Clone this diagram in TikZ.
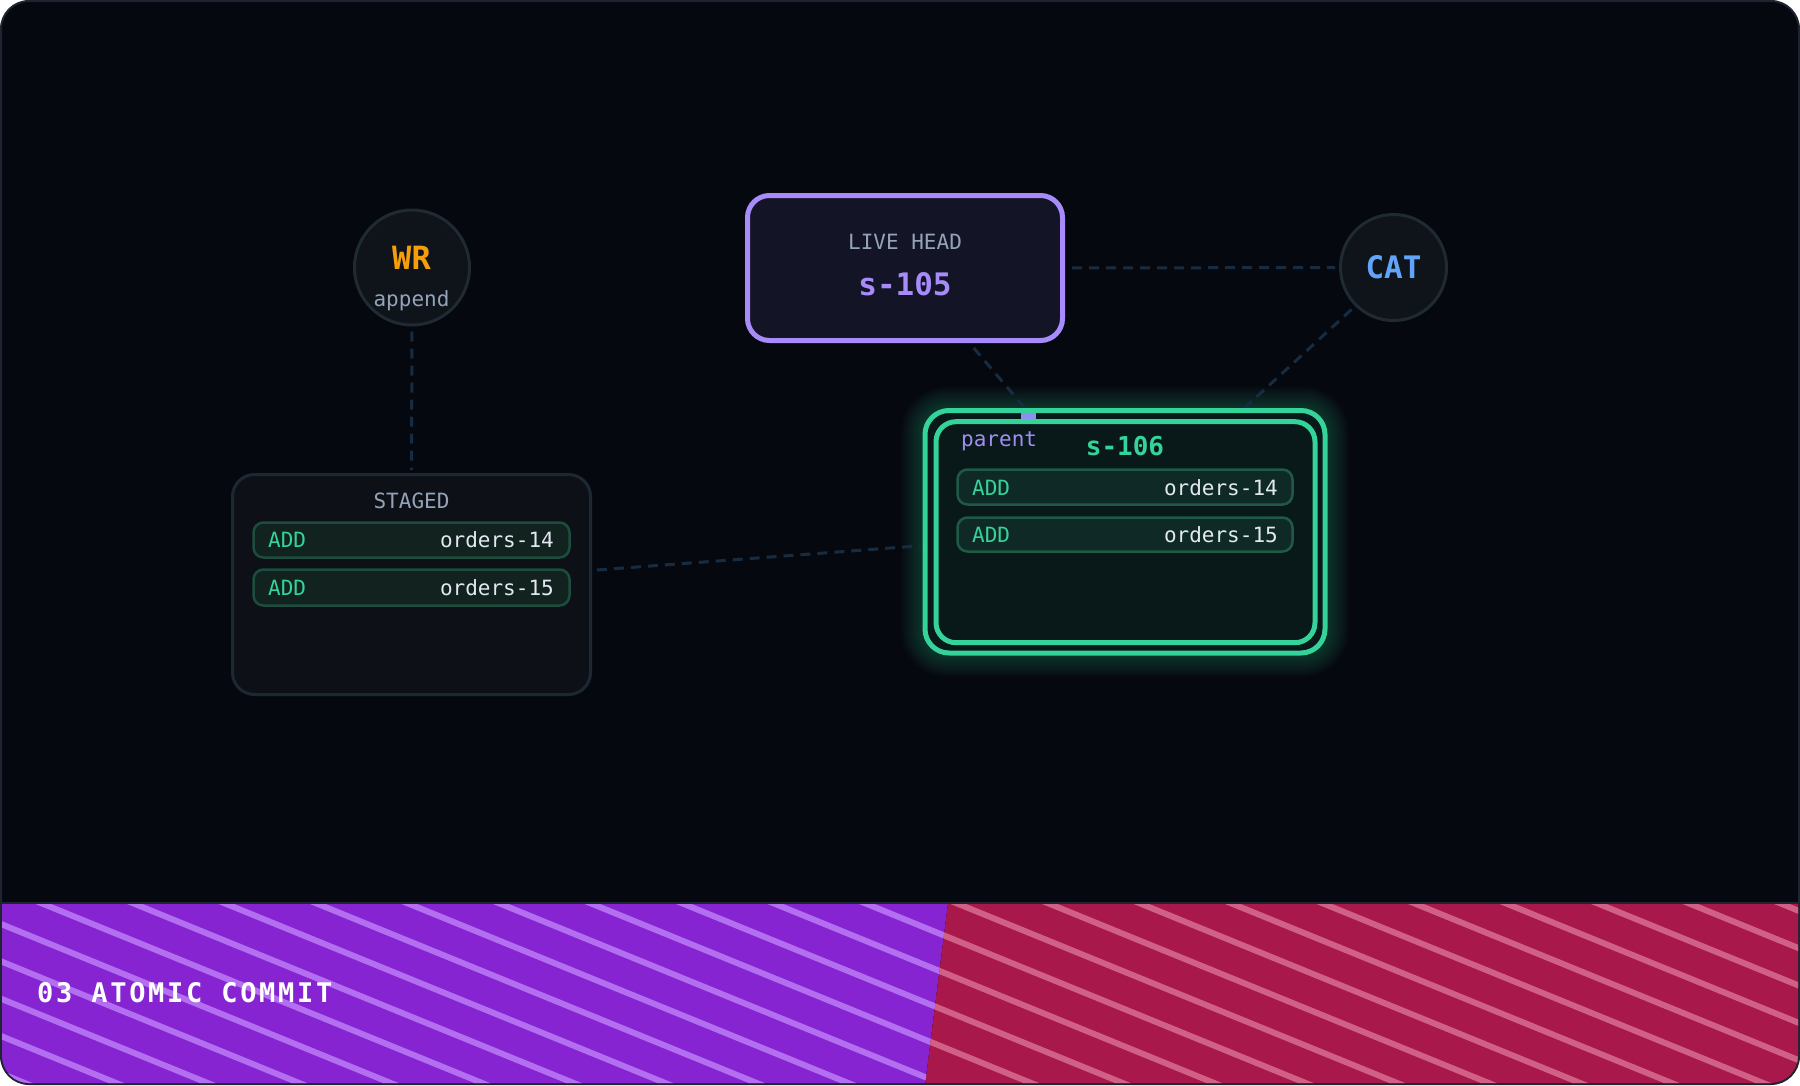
\documentclass[tikz,border=0pt]{standalone}
\usepackage{fontspec}
\setmonofont{DejaVu Sans Mono}
\newfontfamily\bandfont[LetterSpace=10]{DejaVu Sans Mono}
\usetikzlibrary{calc}
\definecolor{bgc}{HTML}{05080F}
\definecolor{framec}{HTML}{1E2430}
\definecolor{connc}{HTML}{172C41}
\definecolor{circf}{HTML}{0F131A}
\definecolor{circd}{HTML}{1F2A33}
\definecolor{headf}{HTML}{131526}
\definecolor{purp}{HTML}{A78BFA}
\definecolor{parentc}{HTML}{A08EF5}
\definecolor{markc}{HTML}{8F8FF0}
\definecolor{grayt}{HTML}{94A3B8}
\definecolor{greent}{HTML}{34D399}
\definecolor{oranget}{HTML}{F59E0B}
\definecolor{bluet}{HTML}{60A5FA}
\definecolor{whitet}{HTML}{E2E8F0}
\definecolor{stagef}{HTML}{0D1117}
\definecolor{staged}{HTML}{1E2832}
\definecolor{rowf}{HTML}{12221F}
\definecolor{rowd}{HTML}{1D4D3D}
\definecolor{rowfb}{HTML}{0F2A26}
\definecolor{rowdb}{HTML}{1E5A45}
\definecolor{newf}{HTML}{091819}
\definecolor{bandp}{HTML}{8624D2}
\definecolor{stripep}{HTML}{B46EF0}
\definecolor{bandr}{HTML}{A8184A}
\definecolor{striper}{HTML}{D06086}
\pgfdeclarelayer{bg}
\pgfdeclarelayer{lines}
\pgfsetlayers{bg,lines,main}
\tikzset{
  lbl/.style={inner sep=0pt, font=\ttfamily\fontsize{21}{25}\selectfont},
  big/.style={inner sep=0pt, font=\ttfamily\bfseries\fontsize{31}{36}\selectfont},
  actor/.style={circle, draw=circd, fill=circf, line width=3pt, inner sep=0pt},
  conn/.style={draw=connc, line width=3pt, dash pattern=on 10pt off 7pt},
  rowbox/.style={rectangle, draw=rowd, fill=rowf, line width=2.5pt, rounded corners=10pt, inner sep=0pt, minimum width=316pt},
  rowboxb/.style={rectangle, draw=rowdb, fill=rowfb, line width=2.5pt, rounded corners=10pt, inner sep=0pt, minimum width=335pt},
}
\begin{document}
\begin{tikzpicture}[x=1pt,y=-1pt]
\useasboundingbox (0,0) rectangle (1800,1085);

% nodes
\node[actor, minimum size=115pt] (wr) at (412,267.5) {};
\node[big, text=oranget, anchor=base, font=\ttfamily\bfseries\fontsize{32}{36}\selectfont] (wrt) at (411.5,269.3) {WR};
\node[lbl, text=grayt, anchor=base] (wra) at (411.5,306.7) {append};

\node[actor, minimum size=106pt] (cat) at (1393.5,267.5) {};
\node[big, text=bluet, anchor=base] (catt) at (1393.5,278.3) {CAT};

\node[rectangle, draw=purp, fill=headf, line width=5pt, rounded corners=22pt, minimum width=315pt, minimum height=145pt, inner sep=0pt] (head) at (905,268) {};
\node[lbl, text=grayt, anchor=base] (headl) at (905,249) {LIVE HEAD};
\node[big, text=purp, anchor=base] (heads) at (905,295) {s-105};

\node[rectangle, draw=staged, fill=stagef, line width=3pt, rounded corners=22pt, minimum width=358pt, minimum height=220pt, inner sep=0pt] (stg) at (411.5,584.5) {};
\node[lbl, text=grayt, anchor=base] (stgl) at (411.5,508.3) {STAGED};
\node[rowbox, minimum height=35pt] (sr1) at (411.5,540) {};
\node[lbl, text=greent, anchor=base west] (sr1a) at (268,547.3) {ADD};
\node[lbl, text=whitet, anchor=base east] (sr1b) at (554,547.3) {orders-14};
\node[rowbox, minimum height=36pt] (sr2) at (411.5,587.5) {};
\node[lbl, text=greent, anchor=base west] (sr2a) at (268,595.7) {ADD};
\node[lbl, text=whitet, anchor=base east] (sr2b) at (554,595.7) {orders-15};

% glow
\begin{pgfonlayer}{lines}
\foreach \w in {4,8,...,48}
  \draw[greent, opacity=0.024, line width=\w pt, rounded corners=22pt] (925,410.5) rectangle (1325,653);
\end{pgfonlayer}

\node[rectangle, draw=greent, fill=newf, line width=5pt, rounded corners=24pt, minimum width=400pt, minimum height=242.5pt, inner sep=0pt] (s106) at (1125,531.75) {};
\node[rectangle, draw=greent, fill=newf, line width=5pt, rounded corners=20pt, minimum width=379pt, minimum height=221pt, inner sep=0pt] (s106in) at (1125.5,532.2) {};
\node[fill=markc, minimum width=15pt, minimum height=6pt, inner sep=0pt] (pmk) at (1028.5,415.5) {};
\node[lbl, text=parentc, anchor=base west] (par) at (961,446.5) {parent};
\node[big, text=greent, anchor=base, font=\ttfamily\bfseries\fontsize{26}{30}\selectfont] (s106t) at (1125,455) {s-106};
\node[rowboxb, minimum height=35pt] (nr1) at (1125,487) {};
\node[lbl, text=greent, anchor=base west] (nr1a) at (972,495) {ADD};
\node[lbl, text=whitet, anchor=base east] (nr1b) at (1278,495) {orders-14};
\node[rowboxb, minimum height=34pt] (nr2) at (1125,534.5) {};
\node[lbl, text=greent, anchor=base west] (nr2a) at (972,542.7) {ADD};
\node[lbl, text=whitet, anchor=base east] (nr2b) at (1278,542.7) {orders-15};

% connector end points
\coordinate (hb) at ($(head.south west)!0.715!(head.south east)+(0,5)$);
\coordinate (cs) at ($(cat.center)!1.09!(cat.225)$);
\coordinate (ce) at ($(s106.north west)!0.795!(s106.north east)$);
\coordinate (se) at ($(stg.east)+(5,-14.5)$);
\coordinate (ne) at ($(s106.west)+(-2,14)$);

% background and band
\begin{pgfonlayer}{bg}
\draw[fill=bgc, draw=framec, line width=2pt, rounded corners=28pt] (1,1) rectangle (1799,1084);
\begin{scope}
  \clip[rounded corners=27pt] (2,2) rectangle (1798,1083);
  \clip (0,903) rectangle (1800,1085);
  \fill[bandp] (0,903) -- (948,903) -- (925,1085) -- (0,1085) -- cycle;
  \fill[bandr] (948,903) -- (1800,903) -- (1800,1085) -- (925,1085) -- cycle;
  \begin{scope}
    \clip (0,903) -- (948,903) -- (925,1085) -- (0,1085) -- cycle;
    \foreach \k in {-8,...,12}
      \draw[stripep, line width=6pt] ({41+91.5*\k-100},{903-40.8}) -- ({41+91.5*\k+600},{903+244.8});
  \end{scope}
  \begin{scope}
    \clip (948,903) -- (1800,903) -- (1800,1085) -- (925,1085) -- cycle;
    \foreach \k in {6,...,22}
      \draw[striper, line width=6pt] ({41+91.5*\k-100},{903-40.8}) -- ({41+91.5*\k+600},{903+244.8});
  \end{scope}
\end{scope}
\draw[framec, line width=2pt] (2,903) -- (1798,903);
\node[anchor=base west, inner sep=0pt, text=white, font=\bandfont\bfseries\fontsize{27}{32}\selectfont] (band) at (37,1002) {03 ATOMIC COMMIT};
\end{pgfonlayer}

% connectors
\begin{pgfonlayer}{lines}
\draw[conn, shorten <=5pt, shorten >=3pt] (wr.south) -- (stg.north);
\draw[conn, shorten <=7pt, shorten >=4pt] (head.east) -- (cat.west);
\draw[conn] (hb) -- (pmk.north);
\draw[conn] (cs) -- (ce);
\draw[conn] (se) -- (ne);
\end{pgfonlayer}
\end{tikzpicture}
\end{document}
